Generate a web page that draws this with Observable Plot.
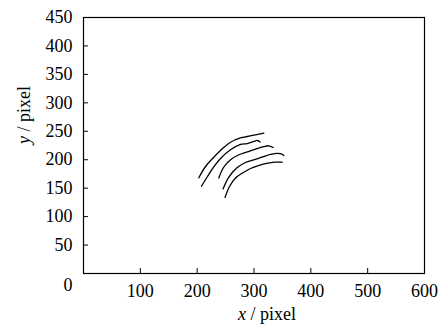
<!DOCTYPE html>
<html>
<head>
<meta charset="utf-8">
<script src="https://cdn.jsdelivr.net/npm/d3@7"></script>
<script src="https://cdn.jsdelivr.net/npm/@observablehq/plot@0.6"></script>
<style>
  html, body { margin: 0; padding: 0; background: #fff; }
  svg text { font-family: "Liberation Serif", "Times New Roman", serif !important; }
</style>
</head>
<body>
<div id="chart"></div>
<script>
// Tick values and labels
const xTickMarks = [100, 200, 300, 400, 500];
const xTickLabels = [100, 200, 300, 400, 500, 600];
const yTickMarks = [50, 100, 150, 200, 250, 300, 350, 400];
const yTickLabels = [50, 100, 150, 200, 250, 300, 350, 400, 450];
const cornerLabel = ["0"];
const xTitle = "x / pixel";
const yTitle = "y / pixel";

// Five curves (x, y in pixel units)
const curve1X = [202.9, 214.7, 229.3, 244.6, 258.7, 276.3, 288.0, 302.7, 317.3];
const curve1Y = [168.2, 188.1, 204.4, 219.7, 230.8, 238.2, 240.8, 243.5, 246.6];
const curve2X = [207.6, 218.2, 228.8, 242.8, 258.7, 276.3, 288.0, 299.1, 306.2, 310.6];
const curve2Y = [153.5, 170.5, 186.9, 203.9, 217.4, 226.8, 228.5, 232.0, 233.8, 231.1];
const curve3X = [238.1, 246.4, 258.7, 272.7, 288.0, 302.7, 317.3, 325.5, 333.8];
const curve3Y = [167.9, 186.3, 199.9, 208.3, 213.6, 218.8, 223.2, 224.5, 221.5];
const curve4X = [245.5, 255.2, 270.5, 285.1, 299.7, 315.0, 329.0, 341.4, 348.4, 352.5];
const curve4Y = [148.5, 168.7, 186.3, 195.1, 199.9, 204.8, 209.2, 211.3, 210.4, 207.4];
const curve5X = [249.0, 256.9, 267.5, 279.8, 293.9, 307.9, 322.0, 336.1, 349.6];
const curve5Y = [133.6, 152.9, 167.9, 176.7, 184.6, 189.8, 193.4, 195.6, 195.6];

const curves = [
  [curve1X, curve1Y], [curve2X, curve2Y], [curve3X, curve3Y],
  [curve4X, curve4Y], [curve5X, curve5Y]
];
const rows = curves.flatMap(([xs, ys], k) => xs.map((x, i) => ({curve: k, x, y: ys[i]})));

const font = "Liberation Serif, Times New Roman, serif";
const fs = 18;

const svg = Plot.plot({
  width: 448,
  height: 332,
  marginLeft: 83,
  marginRight: 24,
  marginTop: 17,
  marginBottom: 59,
  style: {fontSize: fs + "px", color: "black", background: "white"},
  x: {domain: [0, 600]},
  y: {domain: [0, 450]},
  marks: [
    Plot.frame({stroke: "black", strokeWidth: 1.2}),
    // inward tick marks
    Plot.axisX({ticks: xTickMarks, tickSize: -5, tickFormat: () => "", label: null, stroke: "black"}),
    Plot.axisY({ticks: yTickMarks, tickSize: -5, tickFormat: () => "", label: null, stroke: "black"}),
    // tick labels
    Plot.axisX({ticks: xTickLabels, tickSize: 0, tickPadding: 11, label: null, fontSize: fs, fontFamily: font, fill: "black"}),
    Plot.axisY({ticks: yTickLabels, tickSize: 0, tickPadding: 11, label: null, fontSize: fs, fontFamily: font, fill: "black"}),
    Plot.text(cornerLabel, {x: () => 0, y: () => 0, text: d => d, textAnchor: "end", dx: -11, dy: 12, fontSize: fs, fontFamily: font, fill: "black"}),
    // axis titles
    Plot.text([xTitle], {frameAnchor: "bottom", text: d => d, dy: 46, dx: 13, fontSize: fs, fontFamily: font, fill: "black"}),
    Plot.text([yTitle], {frameAnchor: "left", text: d => d, rotate: -90, dx: -59.5, dy: -1.5, fontSize: fs, fontFamily: font, fill: "black"}),
    // curves
    Plot.line(rows, {x: "x", y: "y", z: "curve", stroke: "black", strokeWidth: 1.3, curve: "catmull-rom"})
  ]
});

// italicize the variable letter in axis titles
svg.querySelectorAll("text").forEach(t => {
  const s = t.textContent;
  if (s === xTitle || s === yTitle) {
    t.textContent = "";
    const a = document.createElementNS("http://www.w3.org/2000/svg", "tspan");
    a.setAttribute("font-style", "italic");
    a.textContent = s[0];
    const b = document.createElementNS("http://www.w3.org/2000/svg", "tspan");
    b.textContent = s.slice(1);
    t.appendChild(a);
    t.appendChild(b);
  }
});

document.getElementById("chart").appendChild(svg);
</script>
</body>
</html>
